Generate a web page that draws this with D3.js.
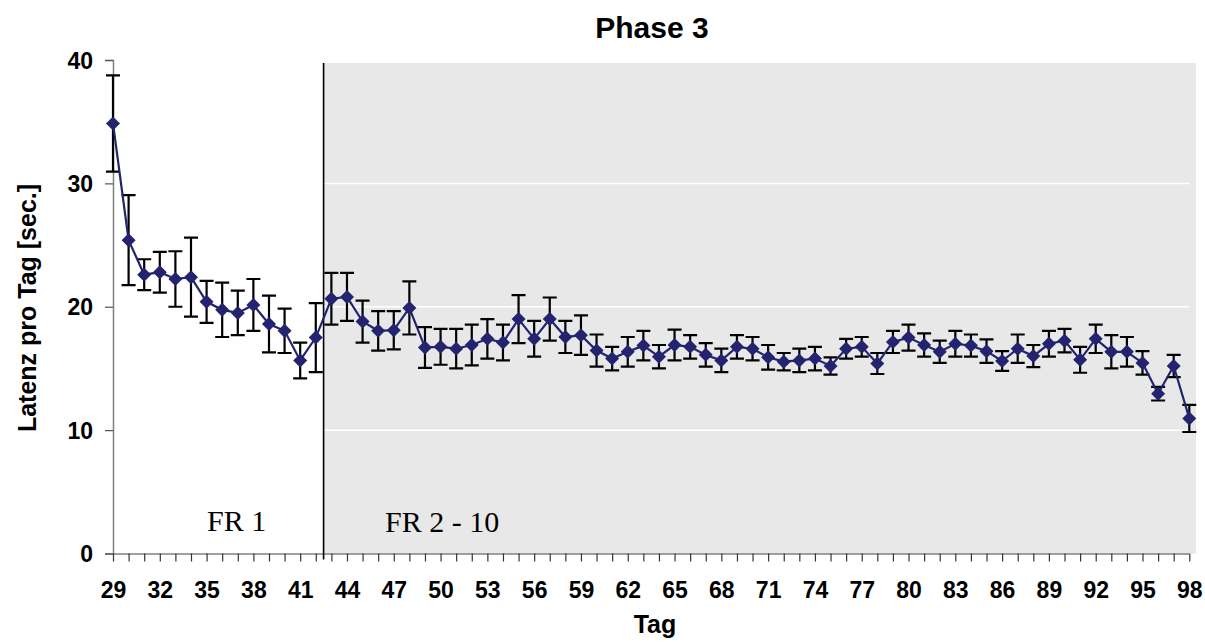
<!DOCTYPE html>
<html>
<head>
<meta charset="utf-8">
<script src="https://cdn.jsdelivr.net/npm/d3@7"></script>
<style>
  html, body { margin: 0; padding: 0; background: #fff; }
  svg { display: block; }
</style>
</head>
<body>
<svg id="chart" width="1205" height="642"></svg>
<script>
// Days of the phase (x categories)
const days = [29,30,31,32,33,34,35,36,37,38,39,40,41,42,43,44,45,46,47,48,49,50,51,52,53,54,55,56,57,58,59,60,61,62,63,64,65,66,67,68,69,70,71,72,73,74,75,76,77,78,79,80,81,82,83,84,85,86,87,88,89,90,91,92,93,94,95,96,97,98];

// Mean latency per day [sec.]
const latency = [34.86,25.4,22.6,22.8,22.25,22.4,20.4,19.75,19.5,20.15,18.6,18.05,15.65,17.5,20.65,20.8,18.8,18.05,18.1,19.9,16.7,16.75,16.6,16.9,17.4,17.1,19.0,17.4,19.0,17.55,17.7,16.45,15.8,16.35,16.85,15.95,16.9,16.75,16.1,15.65,16.75,16.6,15.9,15.55,15.65,15.8,15.2,16.6,16.75,15.4,17.15,17.5,16.9,16.35,17.0,16.85,16.4,15.6,16.6,16.0,17.0,17.25,15.7,17.4,16.35,16.35,15.45,12.95,15.2,10.95];

// Error (± half-length of the error bar)
const errors = [3.9,3.65,1.25,1.65,2.25,3.2,1.7,2.2,1.8,2.1,2.3,1.8,1.45,2.8,2.1,1.95,1.7,1.6,1.55,2.15,1.65,1.45,1.6,1.65,1.6,1.45,1.95,1.45,1.75,1.3,1.6,1.3,0.95,1.2,1.2,0.95,1.25,0.95,0.95,0.95,0.95,0.95,1.0,0.7,0.95,0.95,0.7,0.8,0.8,0.85,0.9,1.05,0.95,0.9,1.05,0.9,0.95,0.8,1.15,0.9,1.05,0.95,1.05,1.15,1.35,1.2,0.95,0.55,0.9,1.1];

// Y axis ticks and labelled x ticks
const yTicks = [0, 10, 20, 30, 40];
const xLabelDays = [29,32,35,38,41,44,47,50,53,56,59,62,65,68,71,74,77,80,83,86,89,92,95,98];

// Schedule phases: boundary between day 42 and 43
const phaseBoundary = 42.5;
const phaseLabels = ["FR 1", "FR 2 - 10"];

const svg = d3.select("#chart");
const navy = "#23236f";

const x = d3.scaleLinear().domain([29, 98]).range([113, 1189.3]);
const y = d3.scaleLinear().domain([0, 40]).range([553.5, 60]);

// Shaded area for the FR 2 - 10 phase
svg.append("rect")
  .attr("x", x(phaseBoundary))
  .attr("y", 63)
  .attr("width", 1196 - x(phaseBoundary))
  .attr("height", y(0) - 63)
  .attr("fill", "#e8e8e8");

// Horizontal gridlines
svg.append("g")
  .selectAll("line")
  .data([10, 20, 30])
  .join("line")
  .attr("x1", x(29)).attr("x2", x(98))
  .attr("y1", d => y(d)).attr("y2", d => y(d))
  .attr("stroke", "#ffffff")
  .attr("stroke-width", 1.5);

// Y axis
const yAxis = d3.axisLeft(y).tickValues(yTicks).tickSize(8).tickPadding(12).tickFormat(d3.format("d"));
const gy = svg.append("g").attr("transform", `translate(${x(29)},0)`).call(yAxis);
gy.select(".domain").attr("stroke", "#808080").attr("stroke-width", 1.5);
gy.selectAll(".tick line").attr("stroke", "#555").attr("stroke-width", 1.2);
gy.selectAll(".tick text")
  .attr("font-family", "Liberation Sans, Arial, sans-serif")
  .attr("font-weight", "bold")
  .attr("font-size", 23)
  .attr("fill", "#000")
  .attr("dy", "0.35em");

// X axis: a tick for every day, labels every third day
const xAxis = d3.axisBottom(x).tickValues(days).tickSize(8).tickPadding(20)
  .tickFormat(d => xLabelDays.includes(d) ? d : "");
const gx = svg.append("g").attr("transform", `translate(0,${y(0)})`).call(xAxis);
gx.select(".domain").attr("stroke", "#808080").attr("stroke-width", 1.5).attr("d", `M${x(29)},0.5H${x(98)}`);
gx.selectAll(".tick line").attr("stroke", "#333").attr("stroke-width", 1.2);
gx.selectAll(".tick text")
  .attr("font-family", "Liberation Sans, Arial, sans-serif")
  .attr("font-weight", "bold")
  .attr("font-size", 23)
  .attr("fill", "#000");

// Phase boundary line
svg.append("line")
  .attr("x1", x(phaseBoundary)).attr("x2", x(phaseBoundary))
  .attr("y1", 63).attr("y2", y(0) + 6)
  .attr("stroke", "#000")
  .attr("stroke-width", 1.6);

// Phase labels
svg.append("text")
  .attr("x", 207).attr("y", 531)
  .attr("font-family", "Liberation Serif, Times New Roman, serif")
  .attr("font-size", 30)
  .attr("fill", "#000")
  .text(phaseLabels[0]);
svg.append("text")
  .attr("x", 385).attr("y", 532)
  .attr("font-family", "Liberation Serif, Times New Roman, serif")
  .attr("font-size", 30)
  .attr("fill", "#000")
  .text(phaseLabels[1]);

const data = days.map((d, i) => ({ day: d, v: latency[i], e: errors[i] }));

// Error bars
const eb = svg.append("g").attr("stroke", "#000").attr("stroke-width", 2.2).attr("fill", "none");
const capHalf = 7;
eb.selectAll("path")
  .data(data)
  .join("path")
  .attr("d", d => {
    const cx = x(d.day), top = y(d.v + d.e), bot = y(d.v - d.e);
    return `M${cx},${top}V${bot}M${cx - capHalf},${top}H${cx + capHalf}M${cx - capHalf},${bot}H${cx + capHalf}`;
  });

// Connecting line
svg.append("path")
  .datum(data)
  .attr("fill", "none")
  .attr("stroke", navy)
  .attr("stroke-width", 2.2)
  .attr("d", d3.line().x(d => x(d.day)).y(d => y(d.v)));

// Diamond markers
const dsz = 7;
svg.append("g")
  .selectAll("path")
  .data(data)
  .join("path")
  .attr("d", d => {
    const cx = x(d.day), cy = y(d.v);
    return `M${cx},${cy - dsz}L${cx + dsz},${cy}L${cx},${cy + dsz}L${cx - dsz},${cy}Z`;
  })
  .attr("fill", navy);

// Title
svg.append("text")
  .attr("x", 652).attr("y", 38)
  .attr("text-anchor", "middle")
  .attr("font-family", "Liberation Sans, Arial, sans-serif")
  .attr("font-weight", "bold")
  .attr("font-size", 30)
  .attr("fill", "#000")
  .text("Phase 3");

// Axis titles
svg.append("text")
  .attr("x", 655).attr("y", 633)
  .attr("text-anchor", "middle")
  .attr("font-family", "Liberation Sans, Arial, sans-serif")
  .attr("font-weight", "bold")
  .attr("font-size", 25)
  .attr("fill", "#000")
  .text("Tag");

svg.append("text")
  .attr("transform", "translate(36,308) rotate(-90)")
  .attr("text-anchor", "middle")
  .attr("font-family", "Liberation Sans, Arial, sans-serif")
  .attr("font-weight", "bold")
  .attr("font-size", 25)
  .attr("fill", "#000")
  .text("Latenz pro Tag [sec.]");
</script>
</body>
</html>
